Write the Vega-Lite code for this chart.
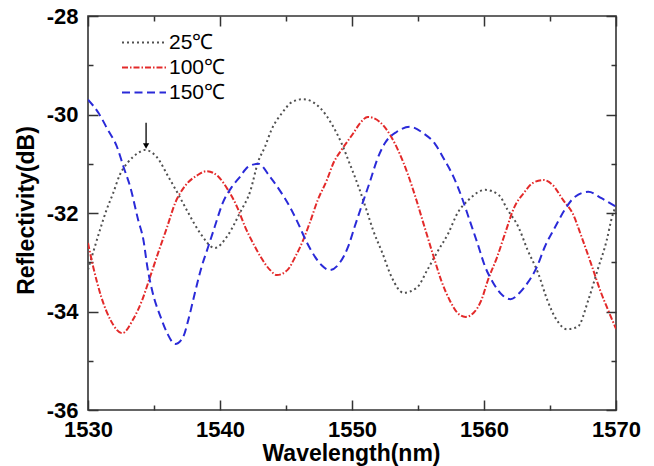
{
  "$schema": "https://vega.github.io/schema/vega-lite/v6.json",
  "width": 528,
  "height": 394,
  "autosize": "none",
  "padding": {"left": 88, "top": 16, "right": 38, "bottom": 56},
  "background": "white",
  "config": {
    "view": {"stroke": "#333333", "strokeWidth": 1.6},
    "font": "Liberation Sans",
    "axis": {"domain": false, "grid": false, "labelFlush": false, "labelOverlap": false},
    "legend": {
      "orient": "none", "legendX": 57, "legendY": 15.5, "padding": 0,
      "symbolType": "M-3.4,0H1", "symbolSize": 400, "symbolStrokeWidth": 2,
      "labelFontSize": 21, "labelFont": "Liberation Sans", "labelColor": "black",
      "rowPadding": 4, "labelOffset": 2, "title": null
    }
  },
  "data": {"values": [
    {"s":"25℃","w":1530,"r":-33.15},{"s":"25℃","w":1530.5,"r":-32.7},{"s":"25℃","w":1530.9,"r":-32.35},{"s":"25℃","w":1531.4,"r":-31.94},{"s":"25℃","w":1531.9,"r":-31.6},{"s":"25℃","w":1532.4,"r":-31.23},{"s":"25℃","w":1533.0,"r":-30.98},{"s":"25℃","w":1533.8,"r":-30.78},{"s":"25℃","w":1534.3,"r":-30.72},{"s":"25℃","w":1535.2,"r":-30.86},{"s":"25℃","w":1536.1,"r":-31.27},{"s":"25℃","w":1536.8,"r":-31.6},{"s":"25℃","w":1537.6,"r":-32.0},{"s":"25℃","w":1538.5,"r":-32.41},{"s":"25℃","w":1539.6,"r":-32.71},{"s":"25℃","w":1540.6,"r":-32.45},{"s":"25℃","w":1541.5,"r":-32.0},{"s":"25℃","w":1542.3,"r":-31.55},{"s":"25℃","w":1542.9,"r":-30.95},{"s":"25℃","w":1543.4,"r":-30.66},{"s":"25℃","w":1543.9,"r":-30.31},{"s":"25℃","w":1544.7,"r":-29.97},{"s":"25℃","w":1545.5,"r":-29.74},{"s":"25℃","w":1546.3,"r":-29.69},{"s":"25℃","w":1547.6,"r":-29.87},{"s":"25℃","w":1548.5,"r":-30.21},{"s":"25℃","w":1549.2,"r":-30.58},{"s":"25℃","w":1549.8,"r":-30.98},{"s":"25℃","w":1550.5,"r":-31.47},{"s":"25℃","w":1551.1,"r":-31.94},{"s":"25℃","w":1551.6,"r":-32.35},{"s":"25℃","w":1552.3,"r":-32.81},{"s":"25℃","w":1553.0,"r":-33.3},{"s":"25℃","w":1553.9,"r":-33.62},{"s":"25℃","w":1554.9,"r":-33.52},{"s":"25℃","w":1555.7,"r":-33.16},{"s":"25℃","w":1556.4,"r":-32.82},{"s":"25℃","w":1557.3,"r":-32.41},{"s":"25℃","w":1558.0,"r":-32.0},{"s":"25℃","w":1558.8,"r":-31.74},{"s":"25℃","w":1560.1,"r":-31.53},{"s":"25℃","w":1561.1,"r":-31.63},{"s":"25℃","w":1561.8,"r":-31.94},{"s":"25℃","w":1562.6,"r":-32.28},{"s":"25℃","w":1563.3,"r":-32.75},{"s":"25℃","w":1564.1,"r":-33.22},{"s":"25℃","w":1564.8,"r":-33.77},{"s":"25℃","w":1565.5,"r":-34.17},{"s":"25℃","w":1566.3,"r":-34.36},{"s":"25℃","w":1567.1,"r":-34.31},{"s":"25℃","w":1567.9,"r":-33.77},{"s":"25℃","w":1568.6,"r":-33.16},{"s":"25℃","w":1569.3,"r":-32.55},{"s":"25℃","w":1569.7,"r":-32.08},{"s":"25℃","w":1570,"r":-31.85},
    {"s":"100℃","w":1530,"r":-32.61},{"s":"100℃","w":1530.4,"r":-33.1},{"s":"100℃","w":1531.0,"r":-33.7},{"s":"100℃","w":1531.7,"r":-34.17},{"s":"100℃","w":1532.6,"r":-34.44},{"s":"100℃","w":1533.4,"r":-34.17},{"s":"100℃","w":1534.1,"r":-33.77},{"s":"100℃","w":1534.7,"r":-33.3},{"s":"100℃","w":1535.3,"r":-32.82},{"s":"100℃","w":1536.0,"r":-32.28},{"s":"100℃","w":1536.6,"r":-31.8},{"s":"100℃","w":1537.3,"r":-31.47},{"s":"100℃","w":1538.3,"r":-31.23},{"s":"100℃","w":1539.0,"r":-31.15},{"s":"100℃","w":1539.9,"r":-31.27},{"s":"100℃","w":1540.6,"r":-31.53},{"s":"100℃","w":1541.3,"r":-31.88},{"s":"100℃","w":1541.9,"r":-32.28},{"s":"100℃","w":1542.5,"r":-32.61},{"s":"100℃","w":1543.1,"r":-32.9},{"s":"100℃","w":1543.8,"r":-33.16},{"s":"100℃","w":1544.3,"r":-33.26},{"s":"100℃","w":1545.1,"r":-33.16},{"s":"100℃","w":1545.7,"r":-32.89},{"s":"100℃","w":1546.3,"r":-32.55},{"s":"100℃","w":1546.8,"r":-32.2},{"s":"100℃","w":1547.4,"r":-31.74},{"s":"100℃","w":1548.1,"r":-31.33},{"s":"100℃","w":1548.6,"r":-30.98},{"s":"100℃","w":1549.2,"r":-30.72},{"s":"100℃","w":1550.1,"r":-30.38},{"s":"100℃","w":1550.6,"r":-30.18},{"s":"100℃","w":1551.2,"r":-30.05},{"s":"100℃","w":1552.1,"r":-30.15},{"s":"100℃","w":1552.9,"r":-30.42},{"s":"100℃","w":1553.6,"r":-30.79},{"s":"100℃","w":1554.2,"r":-31.19},{"s":"100℃","w":1554.8,"r":-31.67},{"s":"100℃","w":1555.4,"r":-32.2},{"s":"100℃","w":1556.2,"r":-32.9},{"s":"100℃","w":1556.8,"r":-33.4},{"s":"100℃","w":1557.4,"r":-33.77},{"s":"100℃","w":1558.0,"r":-34.03},{"s":"100℃","w":1558.6,"r":-34.11},{"s":"100℃","w":1559.2,"r":-34.03},{"s":"100℃","w":1559.8,"r":-33.77},{"s":"100℃","w":1560.3,"r":-33.36},{"s":"100℃","w":1561.0,"r":-32.89},{"s":"100℃","w":1561.6,"r":-32.41},{"s":"100℃","w":1562.3,"r":-31.88},{"s":"100℃","w":1563.0,"r":-31.6},{"s":"100℃","w":1563.7,"r":-31.39},{"s":"100℃","w":1564.5,"r":-31.33},{"s":"100℃","w":1565.2,"r":-31.43},{"s":"100℃","w":1566.0,"r":-31.74},{"s":"100℃","w":1566.7,"r":-32.0},{"s":"100℃","w":1567.4,"r":-32.49},{"s":"100℃","w":1568.2,"r":-33.1},{"s":"100℃","w":1568.8,"r":-33.57},{"s":"100℃","w":1569.4,"r":-33.97},{"s":"100℃","w":1570,"r":-34.35},
    {"s":"150℃","w":1530,"r":-29.7},{"s":"150℃","w":1530.8,"r":-29.97},{"s":"150℃","w":1531.5,"r":-30.31},{"s":"150℃","w":1532.2,"r":-30.66},{"s":"150℃","w":1532.7,"r":-31.07},{"s":"150℃","w":1533.2,"r":-31.47},{"s":"150℃","w":1533.8,"r":-32.14},{"s":"150℃","w":1534.2,"r":-32.55},{"s":"150℃","w":1534.5,"r":-33.1},{"s":"150℃","w":1534.9,"r":-33.62},{"s":"150℃","w":1535.5,"r":-34.11},{"s":"150℃","w":1536.0,"r":-34.44},{"s":"150℃","w":1536.6,"r":-34.66},{"s":"150℃","w":1537.2,"r":-34.52},{"s":"150℃","w":1537.6,"r":-34.17},{"s":"150℃","w":1538.1,"r":-33.62},{"s":"150℃","w":1538.6,"r":-33.1},{"s":"150℃","w":1539.1,"r":-32.69},{"s":"150℃","w":1539.6,"r":-32.28},{"s":"150℃","w":1540.2,"r":-31.8},{"s":"150℃","w":1540.9,"r":-31.47},{"s":"150℃","w":1541.5,"r":-31.27},{"s":"150℃","w":1542.1,"r":-31.07},{"s":"150℃","w":1542.9,"r":-31.0},{"s":"150℃","w":1543.8,"r":-31.27},{"s":"150℃","w":1544.5,"r":-31.53},{"s":"150℃","w":1545.3,"r":-31.88},{"s":"150℃","w":1545.9,"r":-32.2},{"s":"150℃","w":1546.6,"r":-32.61},{"s":"150℃","w":1547.2,"r":-32.89},{"s":"150℃","w":1547.7,"r":-33.06},{"s":"150℃","w":1548.3,"r":-33.16},{"s":"150℃","w":1549.1,"r":-33.0},{"s":"150℃","w":1549.7,"r":-32.69},{"s":"150℃","w":1550.2,"r":-32.28},{"s":"150℃","w":1550.8,"r":-31.8},{"s":"150℃","w":1551.4,"r":-31.33},{"s":"150℃","w":1551.9,"r":-30.92},{"s":"150℃","w":1552.5,"r":-30.58},{"s":"150℃","w":1553.4,"r":-30.35},{"s":"150℃","w":1554.4,"r":-30.25},{"s":"150℃","w":1555.4,"r":-30.38},{"s":"150℃","w":1556.3,"r":-30.6},{"s":"150℃","w":1557.0,"r":-30.92},{"s":"150℃","w":1557.7,"r":-31.27},{"s":"150℃","w":1558.3,"r":-31.67},{"s":"150℃","w":1558.9,"r":-32.14},{"s":"150℃","w":1559.5,"r":-32.61},{"s":"150℃","w":1560.1,"r":-33.1},{"s":"150℃","w":1560.7,"r":-33.42},{"s":"150℃","w":1561.4,"r":-33.67},{"s":"150℃","w":1562.0,"r":-33.75},{"s":"150℃","w":1562.7,"r":-33.62},{"s":"150℃","w":1563.3,"r":-33.42},{"s":"150℃","w":1564.0,"r":-33.1},{"s":"150℃","w":1564.6,"r":-32.69},{"s":"150℃","w":1565.4,"r":-32.28},{"s":"150℃","w":1566.1,"r":-31.94},{"s":"150℃","w":1566.9,"r":-31.67},{"s":"150℃","w":1567.9,"r":-31.57},{"s":"150℃","w":1568.9,"r":-31.7},{"s":"150℃","w":1569.8,"r":-31.84},{"s":"150℃","w":1570,"r":-31.87}
  ]},
  "layer": [
    {
      "mark": {"type": "line", "interpolate": "monotone", "strokeWidth": 2, "strokeCap": "butt", "clip": true},
      "encoding": {
        "x": {"field": "w", "type": "quantitative",
          "scale": {"domain": [1530, 1570], "nice": false, "zero": false},
          "axis": {"orient": "bottom", "values": [1530,1540,1550,1560,1570],
            "labelExpr": "'' + datum.value",
            "ticks": true, "tickSize": -10, "tickColor": "#333333", "tickWidth": 1.5, "labelPadding": 19,
            "labelFontSize": 22, "labelFontWeight": "bold", "labelColor": "black",
            "title": "Wavelength(nm)", "titleFontSize": 23, "titleFontWeight": "bold", "titleColor": "black",
            "titleX": 263, "titleY": 50, "titleBaseline": "alphabetic", "titleAlign": "center"}},
        "y": {"field": "r", "type": "quantitative",
          "scale": {"domain": [-36, -28], "nice": false, "zero": false},
          "axis": {"orient": "left", "values": [-36,-34,-32,-30,-28],
            "labelExpr": "'' + datum.value",
            "ticks": true, "tickSize": -10, "tickColor": "#333333", "tickWidth": 1.5, "labelPadding": 20,
            "labelFontSize": 22, "labelFontWeight": "bold", "labelColor": "black",
            "title": "Reflectivity(dB)", "titleFontSize": 23, "titleFontWeight": "bold", "titleColor": "black",
            "titleX": -62, "titleY": 194, "titleBaseline": "middle", "titleAlign": "center", "titleAngle": -90}},
        "color": {"field": "s", "type": "nominal",
          "scale": {"domain": ["25℃","100℃","150℃"], "range": ["#505050","#e32a2a","#2a2ad8"]},
          "legend": {"title": null}},
        "strokeDash": {"field": "s", "type": "nominal",
          "scale": {"domain": ["25℃","100℃","150℃"], "range": [[2,3],[6,2,1.5,2],[8,4.5]]},
          "legend": {"title": null}}
      }
    },
    {
      "mark": {"type": "point", "opacity": 0},
      "encoding": {
        "x": {"field": "w", "type": "quantitative",
          "axis": {"orient": "top", "values": [1530,1540,1550,1560,1570], "labels": false, "ticks": true, "tickSize": -10, "tickColor": "#333333", "tickWidth": 1.5, "title": null}},
        "y": {"field": "r", "type": "quantitative",
          "axis": {"orient": "right", "values": [-36,-34,-32,-30,-28], "labels": false, "ticks": true, "tickSize": -10, "tickColor": "#333333", "tickWidth": 1.5, "title": null}}
      }
    },
    {
      "mark": {"type": "point", "opacity": 0},
      "encoding": {
        "x": {"field": "w", "type": "quantitative",
          "axis": {"orient": "bottom", "values": [1535,1545,1555,1565], "labels": false, "ticks": true, "tickSize": -5, "tickColor": "#333333", "tickWidth": 1.5, "title": null}},
        "y": {"field": "r", "type": "quantitative",
          "axis": {"orient": "left", "values": [-35,-33,-31,-29], "labels": false, "ticks": true, "tickSize": -5, "tickColor": "#333333", "tickWidth": 1.5, "title": null}}
      }
    },
    {
      "mark": {"type": "point", "opacity": 0},
      "encoding": {
        "x": {"field": "w", "type": "quantitative",
          "axis": {"orient": "top", "values": [1535,1545,1555,1565], "labels": false, "ticks": true, "tickSize": -5, "tickColor": "#333333", "tickWidth": 1.5, "title": null}},
        "y": {"field": "r", "type": "quantitative",
          "axis": {"orient": "right", "values": [-35,-33,-31,-29], "labels": false, "ticks": true, "tickSize": -5, "tickColor": "#333333", "tickWidth": 1.5, "title": null}}
      }
    },
    {
      "data": {"values": [{"w": 1534.4, "r": -30.17, "r2": -30.6}]},
      "mark": {"type": "rule", "color": "black", "strokeWidth": 1.3},
      "encoding": {
        "x": {"field": "w", "type": "quantitative", "axis": null},
        "y": {"field": "r", "type": "quantitative", "axis": null},
        "y2": {"field": "r2"}
      }
    },
    {
      "data": {"values": [{"w": 1534.4, "r": -30.64}]},
      "mark": {"type": "point", "shape": "triangle-down", "filled": true, "color": "black", "size": 40, "opacity": 1},
      "encoding": {
        "x": {"field": "w", "type": "quantitative", "axis": null},
        "y": {"field": "r", "type": "quantitative", "axis": null}
      }
    }
  ],
  "resolve": {"axis": {"x": "independent", "y": "independent"}}
}
